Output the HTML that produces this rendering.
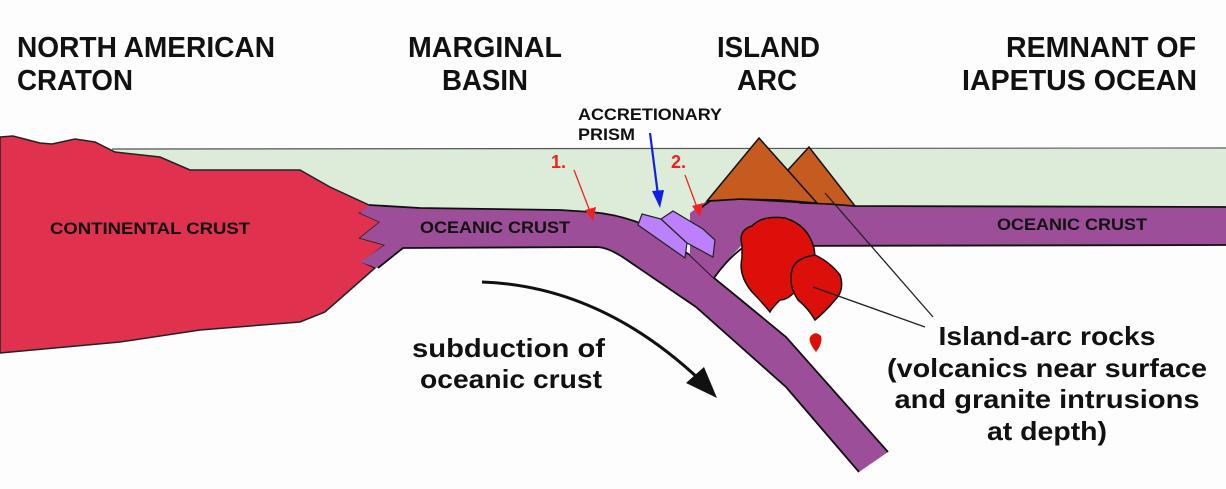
<!DOCTYPE html>
<html><head><meta charset="utf-8"><style>
html,body{margin:0;padding:0;background:#fdfdfd;}
svg{display:block;}
text{font-family:"Liberation Sans",Arial,sans-serif;font-weight:bold;fill:#111;}
</style></head><body>
<svg width="1226" height="489" viewBox="0 0 1226 489" xmlns="http://www.w3.org/2000/svg">
<rect width="1226" height="489" fill="#fdfdfd"/>
<!-- sea -->
<rect x="100" y="149" width="1126" height="90" fill="#dcecd9"/>
<line x1="112" y1="149" x2="1226" y2="148" stroke="#555" stroke-width="1.2"/>
<!-- continent -->
<polygon points="0,137 13,136 40,143 52,144 75,139 95,142 115,152 160,157 190,170 300,170 330,187 369,205 380,207 360,213 380,222 360,238 385,245 362,262 375,268 350,290 325,312 300,322 200,330 120,342 0,353" fill="#e0324e" stroke="#222" stroke-width="1.5"/>
<!-- lower plate + slab -->
<path d="M369,205 L420,208 L560,210 L591,212 Q615,214 637,222 L690,255 L714,278 L741,300 L786,337 L888,452 L859,472 L786,387 L696,307 L627,260 Q610,248 598,247 L403,248 L378,268 L360,262 L385,245 L360,238 L380,222 L360,213 Z" fill="#9c4e98"/>
<path d="M369,205 L420,208 L560,210 L591,212 Q615,214 637,222 L690,255 L714,278 L741,300 L786,337 L888,452" fill="none" stroke="#111" stroke-width="1.8"/>
<path d="M378,268 L403,248 L598,247 Q610,248 627,260 L696,307 L786,387 L859,472" fill="none" stroke="#111" stroke-width="1.8"/>
<!-- upper plate -->
<path d="M690,213 L705,202 L740,199 L830,204 L855,206 L1226,207 L1226,245 L820,245 L742,245 Q725,262 714,278 L690,255 Z" fill="#9c4e98"/>
<path d="M698,210 L710,201 L740,199 L830,204 L855,206 L1226,207" fill="none" stroke="#111" stroke-width="1.8"/>
<path d="M714,278 Q728,258 745,246 L1226,245" fill="none" stroke="#111" stroke-width="1.8"/>
<!-- volcanoes -->
<polygon points="787,171 809,147 855,206 830,204 800,203" fill="#c55b1f" stroke="#111" stroke-width="1.5"/>
<polygon points="707,201 759,138 817,203 780,200 740,199" fill="#c55b1f" stroke="#111" stroke-width="1.5"/>
<!-- prism -->
<polygon points="638,225 642,214 661,219 687,243 685,258" fill="#bb80fb" stroke="#222" stroke-width="1.2"/>
<polygon points="661,219 673,211 703,229 715,240 713,257 687,243" fill="#bb80fb" stroke="#222" stroke-width="1.2"/>
<!-- granite -->
<path d="M742,245 Q738,230 752,226 Q762,215 785,218 Q808,225 814,248 Q818,270 800,285 Q790,300 780,300 Q772,308 770,312 Q760,300 752,292 Q738,275 742,258 Z" fill="#dd0f0a" stroke="#111" stroke-width="1.5"/>
<path d="M792,270 Q795,258 815,255 Q830,262 840,275 Q845,290 835,300 Q825,312 815,320 Q808,308 798,300 Q788,285 792,270 Z" fill="#dd0f0a" stroke="#111" stroke-width="1.5"/>
<path d="M816,352 Q808,342 810,337 Q815,330 821,336 Q823,343 816,352 Z" fill="#dd0f0a"/>
<!-- leader lines -->
<line x1="825" y1="193" x2="933" y2="317" stroke="#222" stroke-width="1.3"/>
<line x1="813" y1="287" x2="925" y2="327" stroke="#222" stroke-width="1.3"/>
<!-- red arrows -->
<line x1="574" y1="170" x2="591" y2="214" stroke="#e22" stroke-width="1.3"/>
<polygon points="593,221 585,210 596,207" fill="#e22"/>
<line x1="685" y1="175" x2="698" y2="210" stroke="#e22" stroke-width="1.3"/>
<polygon points="700,217 692,206 703,203" fill="#e22"/>
<text x="551" y="168" font-size="18" style="fill:#f02020">1.</text>
<text x="671" y="168" font-size="18" style="fill:#f02020">2.</text>
<!-- blue arrow -->
<line x1="650" y1="133" x2="658" y2="195" stroke="#1020e0" stroke-width="2.2"/>
<polygon points="660,208 652,191 664,190" fill="#1020e0"/>
<text x="578" y="120" font-size="17" textLength="144" lengthAdjust="spacingAndGlyphs">ACCRETIONARY</text>
<text x="578" y="140" font-size="17" textLength="57" lengthAdjust="spacingAndGlyphs">PRISM</text>
<!-- subduction arrow -->
<path d="M482,282 Q600,286 700,380" fill="none" stroke="#111" stroke-width="3"/>
<polygon points="717,398 686,383 704,367" fill="#111"/>
<!-- titles -->
<g font-size="29">
<text x="17" y="57" textLength="258" lengthAdjust="spacingAndGlyphs">NORTH AMERICAN</text>
<text x="17" y="90" textLength="116" lengthAdjust="spacingAndGlyphs">CRATON</text>
<text x="408" y="57" textLength="154" lengthAdjust="spacingAndGlyphs">MARGINAL</text>
<text x="442" y="90" textLength="86" lengthAdjust="spacingAndGlyphs">BASIN</text>
<text x="717" y="57" textLength="103" lengthAdjust="spacingAndGlyphs">ISLAND</text>
<text x="737" y="90" textLength="60" lengthAdjust="spacingAndGlyphs">ARC</text>
<text x="1006" y="57" textLength="190" lengthAdjust="spacingAndGlyphs">REMNANT OF</text>
<text x="962" y="90" textLength="235" lengthAdjust="spacingAndGlyphs">IAPETUS OCEAN</text>
</g>
<g font-size="17">
<text x="50" y="234" textLength="200" lengthAdjust="spacingAndGlyphs">CONTINENTAL  CRUST</text>
<text x="420" y="233" textLength="150" lengthAdjust="spacingAndGlyphs">OCEANIC CRUST</text>
<text x="997" y="230" textLength="150" lengthAdjust="spacingAndGlyphs">OCEANIC CRUST</text>
</g>
<g font-size="26">
<text x="412" y="357" textLength="193" lengthAdjust="spacingAndGlyphs">subduction of</text>
<text x="420" y="388" textLength="182" lengthAdjust="spacingAndGlyphs">oceanic crust</text>
<text x="1047" y="345" text-anchor="middle" textLength="217" lengthAdjust="spacingAndGlyphs">Island-arc rocks</text>
<text x="1047" y="377" text-anchor="middle" textLength="320" lengthAdjust="spacingAndGlyphs">(volcanics near surface</text>
<text x="1047" y="408" text-anchor="middle" textLength="305" lengthAdjust="spacingAndGlyphs">and granite intrusions</text>
<text x="1047" y="440" text-anchor="middle" textLength="120" lengthAdjust="spacingAndGlyphs">at depth)</text>
</g>
</svg>
</body></html>
